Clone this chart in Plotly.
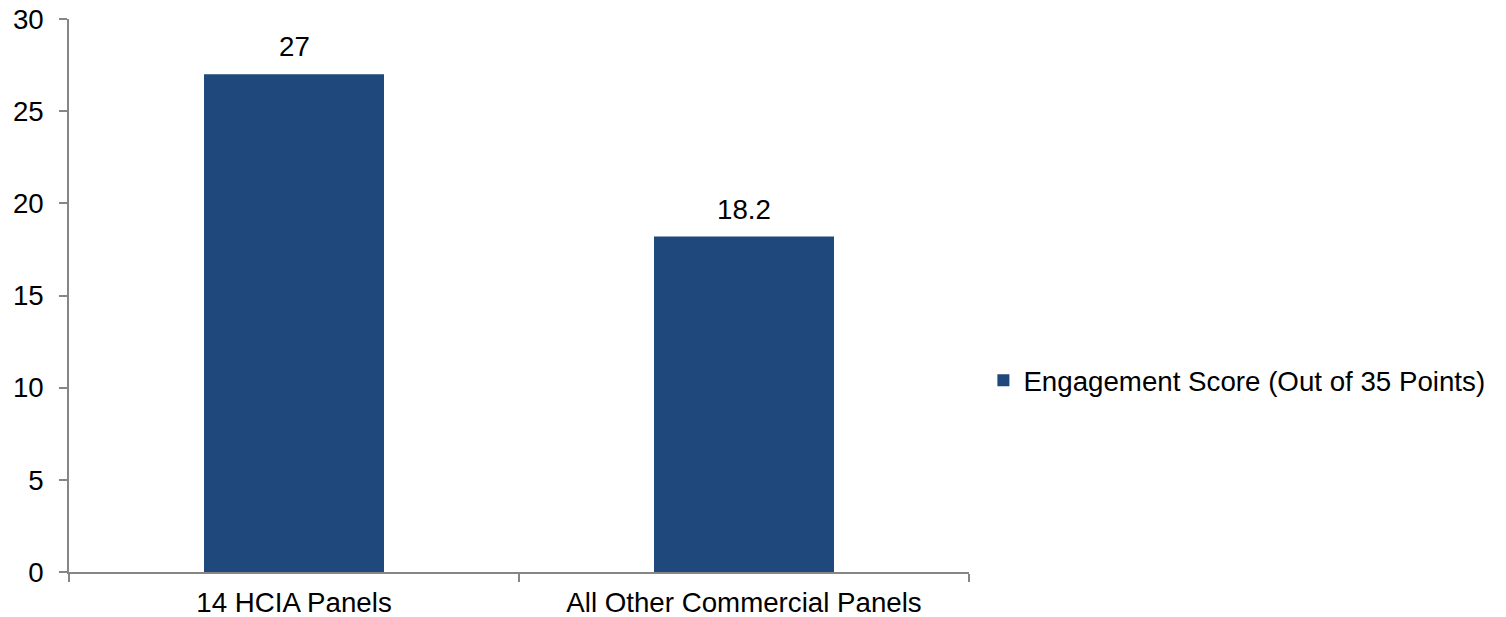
import plotly.graph_objects as go

categories = ["14 HCIA Panels", "All Other Commercial Panels"]
scores = [27, 18.2]
score_labels = ["27", "18.2"]
series_name = "Engagement Score (Out of 35 Points)"
y_ticks = [0, 5, 10, 15, 20, 25, 30]

AXIS = "#868686"
BAR = "#1F497D"
FONT = "Liberation Sans, Arial, sans-serif"
FS = 27.7

fig = go.Figure()
fig.add_trace(go.Bar(
    x=categories, y=scores, name=series_name,
    marker=dict(color=BAR, line=dict(width=0)),
))
for c, v, t in zip(categories, scores, score_labels):
    fig.add_annotation(x=c, y=v, text=t, showarrow=False, yanchor="bottom",
                       yshift=10, font=dict(size=FS, color="#000000", family=FONT))

fig.update_layout(
    width=1506, height=617,
    margin=dict(l=69, r=537, t=19, b=45),
    paper_bgcolor="white", plot_bgcolor="white",
    font=dict(family=FONT, size=FS, color="#000000"),
    bargap=0.6,
    showlegend=True,
    legend=dict(x=1.016, y=0.346, xanchor="left", yanchor="middle",
                font=dict(size=FS, family=FONT), itemwidth=30),
    xaxis=dict(showline=True, linecolor=AXIS, linewidth=1.5,
               ticks="outside", ticklen=8, tickcolor=AXIS, tickwidth=1.5,
               tickson="boundaries", showgrid=False, zeroline=False,
               ticklabelstandoff=5, automargin=False),
    yaxis=dict(range=[0, 30], tickvals=y_ticks, showline=True, linecolor=AXIS,
               linewidth=1.5, ticks="outside", ticklen=8, tickcolor=AXIS,
               tickwidth=1.5, showgrid=False, zeroline=False,
               ticklabelstandoff=10, automargin=False),
)
fig.write_html("out.html")
